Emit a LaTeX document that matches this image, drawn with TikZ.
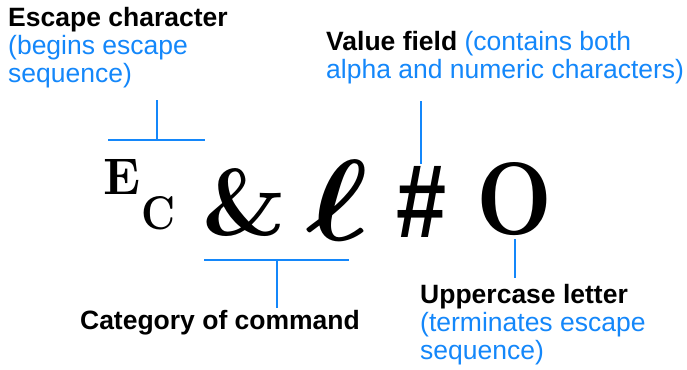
\documentclass[tikz,border=0pt]{standalone}
\usepackage{fontspec}
\usepackage{amsmath}
\usepackage{graphicx}
\newfontfamily\arial{Liberation Sans}
\definecolor{hpblue}{RGB}{20,135,250}

\begin{document}
\begin{tikzpicture}[x=1pt, y=-1pt,
    lbl/.style={inner sep=0pt, align=left, font=\arial\fontsize{26.5}{28}\selectfont},
    glyph/.style={inner sep=0pt, font=\bfseries},
    conn/.style={hpblue, line width=2.4pt}]
    \useasboundingbox (0,0) rectangle (687,369);

    \node[lbl, anchor=north west] (esc) at (8,7) {\textbf{Escape character}\\\textcolor{hpblue}{(begins escape}\\\textcolor{hpblue}{sequence)}};
    \node[lbl, anchor=north west] (val) at (326,31) {\textbf{Value field} \textcolor{hpblue}{(contains both}\\\textcolor{hpblue}{alpha and numeric characters)}};
    \node[lbl, anchor=base] (cat) at (220,329) {\textbf{Category of command}};
    \node[lbl, anchor=north west] (upc) at (420,284) {\textbf{Uppercase letter}\\\textcolor{hpblue}{(terminates escape}\\\textcolor{hpblue}{sequence)}};

    \node[glyph] (ech) at (122,177) {\resizebox{37pt}{35pt}{E}};
    \node[glyph] (cch) at (159,213) {\resizebox{34pt}{33pt}{C}};
    \node[glyph] (amp) at (245,203) {\resizebox{84pt}{67pt}{\&}};
    \node[glyph] (ell) at (338,200) {\resizebox{62pt}{80pt}{$\boldsymbol{\ell}$}};
    \node[glyph, font=\arial\bfseries] (hash) at (422,202) {\resizebox{50pt}{71pt}{\#}};
    \node[glyph] (oh) at (515,199) {\resizebox{76pt}{72pt}{O}};

    \coordinate (escL) at (108,140);
    \coordinate (escR) at (205,140);
    \coordinate (escM) at (157,140);
    \coordinate (escT) at (157,100);
    \coordinate (catL) at (204,260);
    \coordinate (catR) at (349,260);
    \coordinate (catM) at (277,260);
    \coordinate (catB) at (277,308);
    \coordinate (valT) at (421,101);
    \coordinate (valB) at (421,164);
    \coordinate (ohT) at (515,239);
    \coordinate (ohB) at (515,278);

    \draw[conn] (escL) -- (escR);
    \draw[conn] (escM) -- (escT);
    \draw[conn] (catL) -- (catR);
    \draw[conn] (catM) -- (catB);
    \draw[conn] (valT) -- (valB);
    \draw[conn] (ohT) -- (ohB);
\end{tikzpicture}
\end{document}
